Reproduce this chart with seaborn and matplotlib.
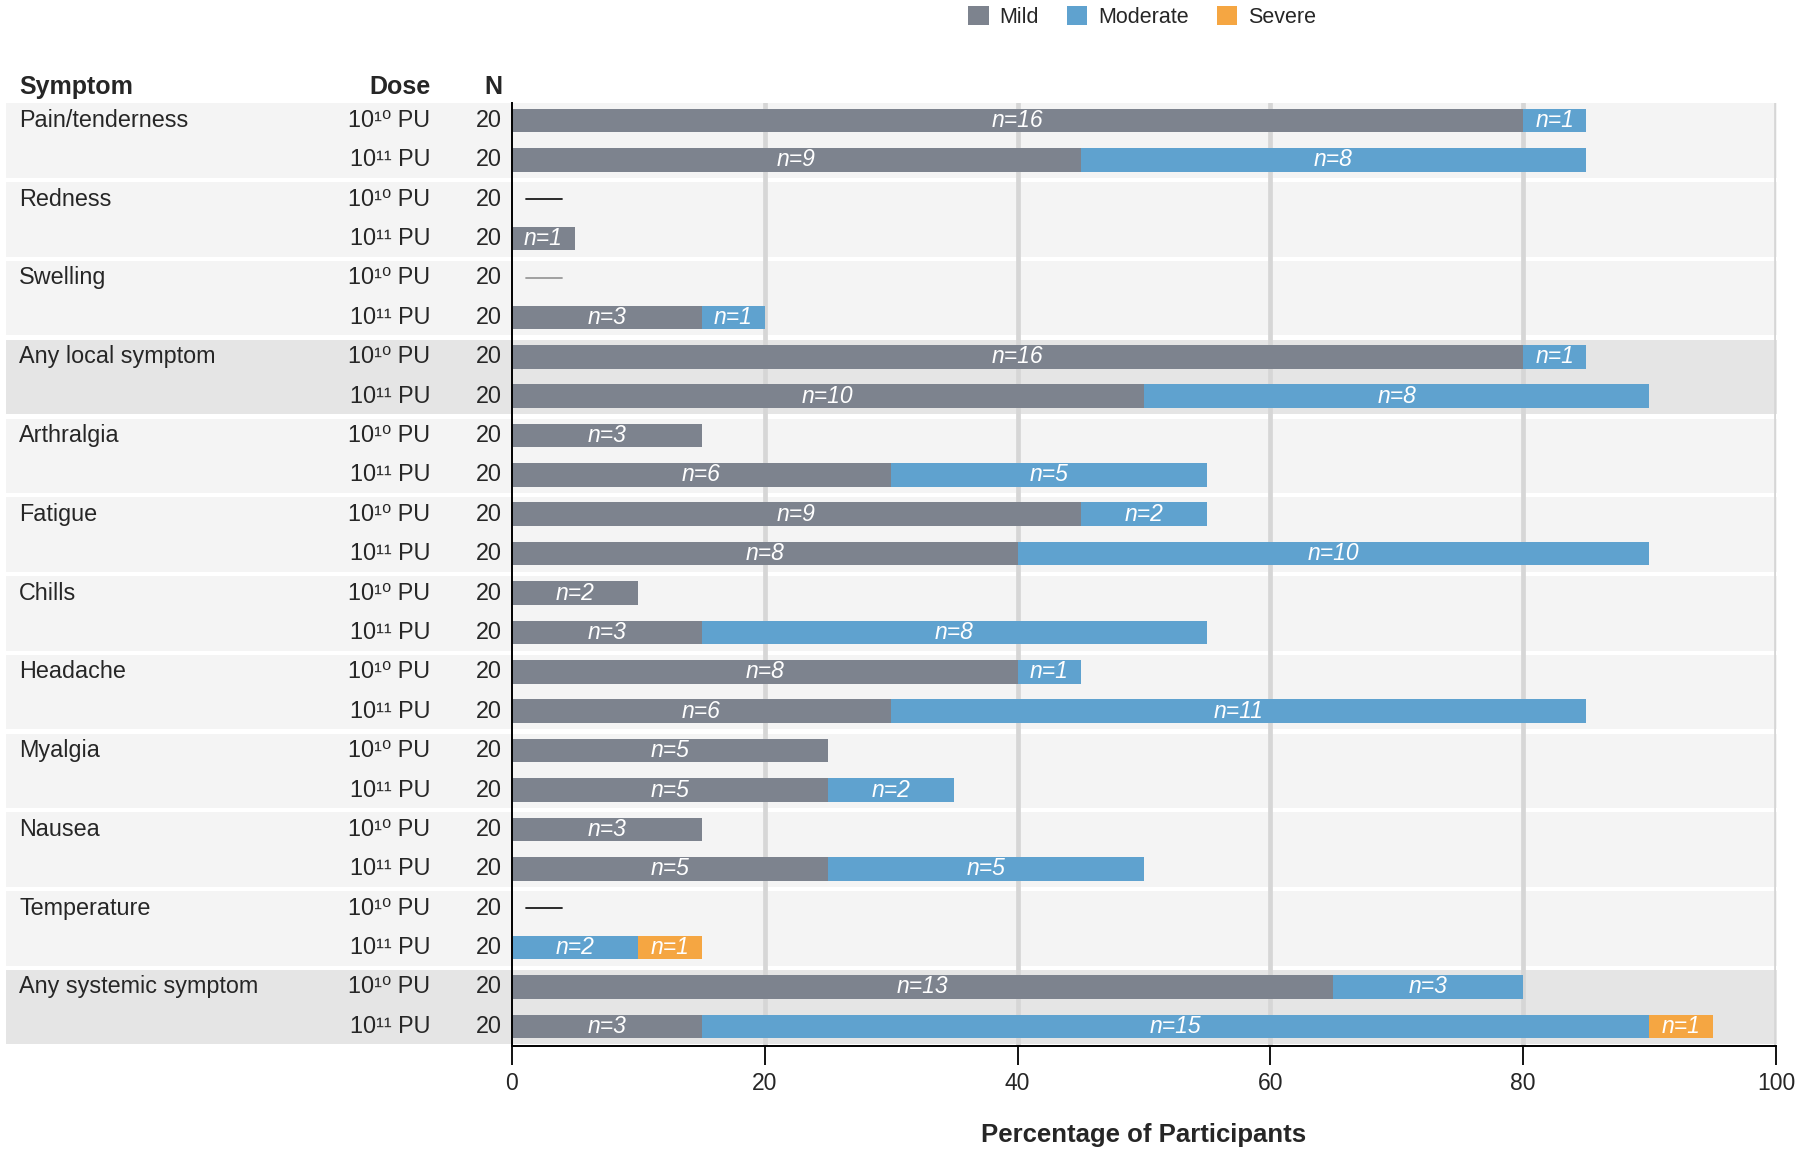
# Solicited adverse events by severity, stacked horizontal bars
import pandas
import numpy
import matplotlib
matplotlib.use("Agg")
import matplotlib.pyplot as plt
from matplotlib.patches import Patch
from matplotlib import transforms
import seaborn

seaborn.set_theme(style="white")
plt.rcParams["font.family"] = ["Liberation Sans", "DejaVu Sans"]

# Data (counts out of N participants)
symptoms = ["Pain/tenderness", "Redness", "Swelling", "Any local symptom",
            "Arthralgia", "Fatigue", "Chills", "Headache", "Myalgia",
            "Nausea", "Temperature", "Any systemic symptom"]
doses = ["10¹⁰ PU", "10¹¹ PU"]
n_per_row = 20
mild_n = [16, 9, 0, 1, 0, 3, 16, 10, 3, 6, 9, 8, 2, 3, 8, 6, 5, 5, 3, 5, 0, 0, 13, 3]
moderate_n = [1, 8, 0, 0, 0, 1, 1, 8, 0, 5, 2, 10, 0, 8, 1, 11, 0, 2, 0, 5, 0, 2, 3, 15]
severe_n = [0, 0, 0, 0, 0, 0, 0, 0, 0, 0, 0, 0, 0, 0, 0, 0, 0, 0, 0, 0, 0, 1, 0, 1]
summary_groups = ["Any local symptom", "Any systemic symptom"]
# rows with no events get a short dash instead of a bar
zero_dash = {2: "#1a1a1a", 4: "#9a9a9a", 20: "#1a1a1a"}

colors = {"Mild": "#7d838e", "Moderate": "#5fa2cf", "Severe": "#f5a642"}

rows = [s + "|" + d for s in symptoms for d in doses]
df = pandas.DataFrame({"row": rows,
                       "mild": numpy.array(mild_n) * 100.0 / n_per_row,
                       "moderate": numpy.array(moderate_n) * 100.0 / n_per_row,
                       "severe": numpy.array(severe_n) * 100.0 / n_per_row})
df["to_moderate"] = df["mild"] + df["moderate"]
df["to_severe"] = df["to_moderate"] + df["severe"]

fig = plt.figure(figsize=(18, 11.51), dpi=100)
ax = fig.add_axes([0.2844, 0.0912, 0.7022, 0.8189])

# stacked bars: draw cumulative totals back to front
for col, key in [("to_severe", "Severe"), ("to_moderate", "Moderate"), ("mild", "Mild")]:
    seaborn.barplot(data=df, y="row", x=col, order=rows, orient="h", color=colors[key],
                    saturation=1, width=0.6, linewidth=0, errorbar=None, ax=ax)
for p in ax.patches:
    p.set_zorder(3)

ax.set_xlim(0, 100)
ax.set_ylim(23.5, -0.43)

# group background bands
for g, s in enumerate(symptoms):
    band = "#e5e5e5" if s in summary_groups else "#f4f4f4"
    ax.axhspan(2 * g - 0.43, 2 * g + 1 + 0.46, xmin=-0.4003, xmax=1.0008,
               color=band, zorder=0, clip_on=False, lw=0)

for xv in [20, 40, 60, 80, 100]:
    ax.axvline(xv, color="#d6d6d6", lw=3.4, zorder=0.5)

# n= labels inside segments
for i in range(len(rows)):
    left = 0.0
    for n, w in [(mild_n[i], df["mild"][i]), (moderate_n[i], df["moderate"][i]), (severe_n[i], df["severe"][i])]:
        if n > 0:
            ax.text(left + w / 2, i, "n=%d" % n, ha="center", va="center", color="white",
                    fontsize=16.5, style="italic", zorder=4)
        left += w
    if i in zero_dash:
        ax.plot([1.1, 4.0], [i, i], color=zero_dash[i], lw=1.3, zorder=4)

# table columns on the left
tr = transforms.blended_transform_factory(fig.transFigure, ax.transData)
for g, s in enumerate(symptoms):
    ax.text(0.0106, 2 * g, s, transform=tr, ha="left", va="center", fontsize=16.8)
    for k, d in enumerate(doses):
        ax.text(0.2390, 2 * g + k, d, transform=tr, ha="right", va="center", fontsize=16.8)
        ax.text(0.2790, 2 * g + k, str(n_per_row), transform=tr, ha="right", va="center", fontsize=16.8)

hy = 1 - 87 / 1151
fig.text(0.0106, hy, "Symptom", ha="left", va="center", fontsize=18, fontweight="bold")
fig.text(0.2390, hy, "Dose", ha="right", va="center", fontsize=18, fontweight="bold")
fig.text(0.2790, hy, "N", ha="right", va="center", fontsize=18, fontweight="bold")

ax.set_yticks([])
ax.set_ylabel("")
ax.set_xticks([0, 20, 40, 60, 80, 100])
ax.tick_params(axis="x", bottom=True, length=14, width=1.3, color="black", labelsize=16.5, pad=5)
ax.set_xlabel("Percentage of Participants", fontsize=18.5, fontweight="bold", labelpad=20)
for side in ["top", "right"]:
    ax.spines[side].set_visible(False)
for side in ["left", "bottom"]:
    ax.spines[side].set_visible(True)
    ax.spines[side].set_color("black")
    ax.spines[side].set_linewidth(1.4)
    ax.spines[side].set_zorder(5)

handles = [Patch(facecolor=colors[k], edgecolor="none", label=k) for k in ["Mild", "Moderate", "Severe"]]
fig.legend(handles=handles, loc="center", bbox_to_anchor=(0.6345, 0.985), ncol=3, frameon=False,
           fontsize=15.5, handlelength=0.95, handleheight=0.95, handletextpad=0.5, columnspacing=1.3)

fig.savefig("out.png", dpi=100, facecolor="white")
